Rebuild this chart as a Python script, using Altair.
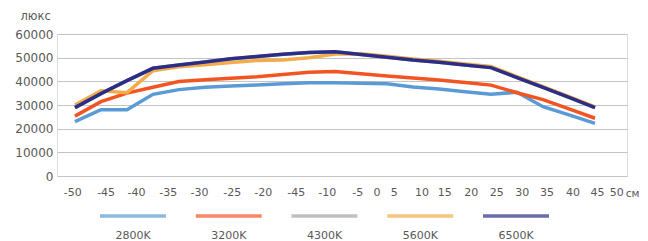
import altair as alt
import pandas as pd

# ---- data ----
series_names = ["2800K", "3200K", "4300K", "5600K", "6500K"]
series_colors = ["#5b9bd5", "#f25522", "#a6a6a6", "#f2ad4a", "#2b2d86"]

point_index = list(range(21))
s2800 = [23000, 28000, 28000, 34500, 36500, 37500, 38000, 38500, 39000, 39400, 39400,
         39200, 39000, 37600, 36800, 35600, 34500, 35400, 29300, 25800, 22200]
s3200 = [25300, 31400, 35000, 37500, 39900, 40700, 41300, 41900, 42900, 43800, 44200,
         43200, 42300, 41400, 40600, 39500, 38400, 35200, 32300, 28400, 24400]
s4300 = [28900, 34800, 40300, 45500, 46900, 48200, 49500, 50500, 51400, 52200, 52500,
         51300, 50200, 49000, 48100, 46900, 45800, 41600, 37400, 33200, 28900]
s5600 = [30000, 36000, 35200, 44500, 46200, 47000, 48000, 48800, 49000, 50000, 51500,
         51700, 50600, 49400, 48500, 47300, 46300, 42000, 37800, 33500, 29200]
s6500 = [28900, 34800, 40300, 45500, 46900, 48200, 49500, 50500, 51400, 52200, 52500,
         51300, 50200, 49000, 48100, 46900, 45800, 41600, 37400, 33200, 28900]
series_values = [s2800, s3200, s4300, s5600, s6500]

tick_pos = [-0.10, 1.18, 2.35, 3.57, 4.77, 6.03, 7.22, 8.49, 9.68, 10.86, 11.60,
            12.26, 13.33, 14.20, 15.22, 16.20, 17.18, 18.13, 19.13, 20.08, 20.82]
tick_text = ["-50", "-45", "-40", "-35", "-30", "-25", "-20", "-45", "-10", "-5", "0",
             "5", "10", "15", "20", "25", "30", "35", "40", "45", "50"]
y_ticks = [0, 10000, 20000, 30000, 40000, 50000, 60000]

rows = []
for name, vals in zip(series_names, series_values):
    for k, v in zip(point_index, vals):
        rows.append({"series": name, "k": k, "value": v})
df = pd.DataFrame(rows)
legend_df = pd.DataFrame({"series": series_names})

FONT = "DejaVu Sans"
GRAY = "#595959"

label_expr = "[" + ",".join("'%s'" % t for t in tick_text) + "][indexof([" + \
    ",".join(str(p) for p in tick_pos) + "], datum.value)]"

color_scale = alt.Scale(domain=series_names, range=series_colors)

lines = alt.Chart(df).mark_line(strokeWidth=3.5).encode(
    x=alt.X("k:Q",
            scale=alt.Scale(domain=[-0.69, 21.23], nice=False, zero=False),
            axis=alt.Axis(values=tick_pos, labelExpr=label_expr, grid=False, ticks=False,
                          tickSize=0, domain=False, labelPadding=10, labelFontSize=11,
                          labelColor=GRAY, labelFont=FONT, labelOverlap=False,
                          labelFlush=False, labelBound=False,
                          title="см", titleX=582, titleY=17, titleBaseline="middle",
                          titleAlign="right", titleFont=FONT, titleFontSize=10.5,
                          titleFontWeight="normal", titleColor=GRAY)),
    y=alt.Y("value:Q",
            scale=alt.Scale(domain=[0, 60000], nice=False),
            axis=alt.Axis(values=y_ticks, format="d", grid=True, gridColor="#c4c4c4",
                          gridWidth=1, ticks=False, tickSize=0, domain=False,
                          labelPadding=4, labelFontSize=12, labelColor=GRAY,
                          labelFont=FONT,
                          title="люкс", titleAngle=0, titleAlign="left", titleX=-37,
                          titleY=-15, titleBaseline="alphabetic", titleFont=FONT,
                          titleFontSize=11.5, titleFontWeight="normal", titleColor=GRAY)),
    color=alt.Color("series:N", scale=color_scale, legend=None),
    order=alt.Order("k:Q"),
)

legend_x = alt.X("series:N", sort=series_names,
                 scale=alt.Scale(type="point", range=[76, 459], padding=0), axis=None)

legend_lines = alt.Chart(legend_df).mark_tick(orient="horizontal", size=66, thickness=3.5).encode(
    x=legend_x,
    y=alt.value(182),
    color=alt.Color("series:N", scale=color_scale, legend=None),
)

legend_text = alt.Chart(legend_df).mark_text(fontSize=11, font=FONT, color=GRAY,
                                             baseline="middle").encode(
    x=legend_x,
    y=alt.value(202),
    text="series:N",
)

chart = alt.layer(lines, legend_lines, legend_text).resolve_scale(
    x="independent"
).properties(
    width=570, height=142,
    autosize=alt.AutoSizeParams(type="none"),
    padding={"left": 49, "top": 26, "right": 13, "bottom": 65},
).configure_view(stroke=None).configure(background="white")

chart.save("out.html", embed_options={"renderer": "svg", "actions": False})
